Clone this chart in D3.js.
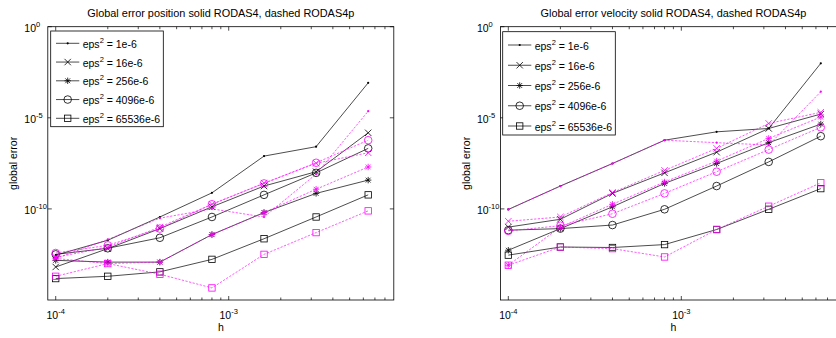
<!DOCTYPE html>
<html>
<head>
<meta charset="utf-8">
<script src="https://cdn.jsdelivr.net/npm/d3@7"></script>
<style>
  html, body { margin: 0; padding: 0; background: #fff; }
  svg text { font-family: "Liberation Sans", Arial, Helvetica, sans-serif; fill: #000; }
</style>
</head>
<body>
<svg id="chart" width="836" height="338"></svg>
<script>
// ---------------- data ----------------
const stepSizes = [1e-4, 2e-4, 4e-4, 8e-4, 1.6e-3, 3.2e-3, 6.4e-3];
const epsLabels = ["1e-6", "16e-6", "256e-6", "4096e-6", "65536e-6"];
const markerTypes = ["dot", "x", "star", "circle", "square"];
const xTickValues = [1e-4, 1e-3];
const xTickExponents = ["-4", "-3"];
const yTickValues = [1e0, 1e-5, 1e-10];
const yTickExponents = ["0", "-5", "-10"];
const titles = [
  "Global error position solid RODAS4, dashed RODAS4p",
  "Global error velocity solid RODAS4, dashed RODAS4p"
];

// position error, RODAS4 (solid black)
const posRodas4 = [
  [2.9e-13, 1.9e-12, 3.6e-11, 7.6e-10, 7.9e-8, 2.6e-7, 8.3e-4],
  [6.5e-14, 6.6e-13, 8.3e-12, 1.3e-10, 1.8e-9, 1.1e-8, 1.5e-6],
  [1.5e-13, 1.2e-13, 1.2e-13, 3.9e-12, 6.3e-11, 7.1e-10, 3.8e-9],
  [3.2e-13, 6.9e-13, 2.6e-12, 3.6e-11, 5.9e-10, 9.5e-9, 2.1e-7],
  [1.5e-14, 2.0e-14, 3.5e-14, 1.7e-13, 2.3e-12, 3.6e-11, 5.9e-10]
];
// position error, RODAS4p (dashed magenta)
const posRodas4p = [
  [1.9e-13, 2.1e-12, 3.1e-11, 1.0e-10, 3.6e-11, 8.1e-9, 2.3e-5],
  [2.2e-13, 7.9e-13, 1.0e-11, 1.8e-10, 2.6e-9, 3.2e-8, 1.2e-7],
  [1.9e-13, 1.0e-13, 1.2e-13, 3.9e-12, 6.3e-11, 1.2e-9, 2.0e-8],
  [3.8e-13, 1.0e-12, 8.3e-12, 1.8e-10, 2.5e-9, 3.4e-8, 5.9e-7],
  [2.0e-14, 1.0e-13, 2.6e-14, 4.6e-15, 3.2e-13, 5.0e-12, 7.8e-11]
];
// velocity error, RODAS4 (solid black)
const velRodas4 = [
  [9.3e-11, 1.8e-9, 3.1e-8, 5.9e-7, 1.7e-6, 2.6e-6, 9.8e-3],
  [1.0e-11, 2.7e-11, 7.1e-10, 9.5e-9, 1.3e-7, 2.6e-6, 1.6e-5],
  [5.4e-13, 8.3e-12, 1.3e-10, 2.5e-9, 3.1e-8, 4.3e-7, 4.5e-6],
  [6.8e-12, 8.3e-12, 1.3e-11, 9.5e-11, 1.8e-9, 3.8e-8, 9.8e-7],
  [2.9e-13, 8.1e-13, 7.6e-13, 1.1e-12, 7.4e-12, 9.5e-11, 1.3e-9]
];
// velocity error, RODAS4p (dashed magenta)
const velRodas4p = [
  [9.3e-11, 1.8e-9, 3.1e-8, 5.9e-7, 4.3e-7, 3.2e-7, 2.7e-4],
  [2.1e-11, 3.6e-11, 7.9e-10, 1.3e-8, 2.1e-7, 4.9e-6, 2.0e-5],
  [8.1e-14, 1.0e-11, 1.8e-10, 3.0e-9, 4.2e-8, 7.4e-7, 1.1e-5],
  [6.2e-12, 1.2e-11, 5.4e-11, 7.1e-10, 1.1e-8, 1.8e-7, 3.0e-6],
  [8.1e-14, 8.1e-13, 6.6e-13, 2.3e-13, 7.4e-12, 1.4e-10, 2.7e-9]
];

// ---------------- layout ----------------
const svg = d3.select("#chart");
const FONT = 10.5;
const panels = [
  { left: 47.8, solid: posRodas4, dashed: posRodas4p, title: titles[0],
    legend: { x: 50.7, y: 31, w: 112.6, h: 95.7, row0: 12.3, rowStep: 18.75 } },
  { left: 500.4, solid: velRodas4, dashed: velRodas4p, title: titles[1],
    legend: { x: 502.7, y: 31.7, w: 112.6, h: 103.3, row0: 13.3, rowStep: 20.25 } }
];
const plotW = 346, plotTop = 26.7, plotH = 273.3;
const BLACK = "#000", MAG = "#ff00ff";

function drawMarker(g, type, x, y, color) {
  const s = 3.2;
  if (type === "dot") {
    g.append("circle").attr("cx", x).attr("cy", y).attr("r", 1.1).attr("fill", color);
  } else if (type === "x") {
    g.append("path").attr("d", `M${x-s},${y-s}L${x+s},${y+s}M${x-s},${y+s}L${x+s},${y-s}`)
      .attr("stroke", color).attr("stroke-width", 0.8).attr("fill", "none");
  } else if (type === "star") {
    const d = s * 0.75;
    g.append("path").attr("d",
      `M${x-s},${y}L${x+s},${y}M${x},${y-s}L${x},${y+s}M${x-d},${y-d}L${x+d},${y+d}M${x-d},${y+d}L${x+d},${y-d}`)
      .attr("stroke", color).attr("stroke-width", 0.8).attr("fill", "none");
  } else if (type === "circle") {
    g.append("circle").attr("cx", x).attr("cy", y).attr("r", 3.8)
      .attr("stroke", color).attr("stroke-width", 0.8).attr("fill", "none");
  } else if (type === "square") {
    g.append("rect").attr("x", x - 3.2).attr("y", y - 3.2).attr("width", 6.4).attr("height", 6.4)
      .attr("stroke", color).attr("stroke-width", 0.8).attr("fill", "none");
  }
}

panels.forEach(p => {
  const x = d3.scaleLog().domain([9e-5, 9e-3]).range([p.left, p.left + plotW]);
  const y = d3.scaleLog().domain([1e-15, 1]).range([plotTop + plotH, plotTop]);
  const g = svg.append("g");

  // axes box
  g.append("rect").attr("x", p.left).attr("y", plotTop).attr("width", plotW).attr("height", plotH)
    .attr("fill", "#fff").attr("stroke", "#000").attr("stroke-width", 0.8);

  // x ticks (major + minor), inward on bottom and top
  const minor = [];
  [1e-4, 1e-3].forEach(dec => { for (let k = 2; k <= 9; k++) minor.push(k * dec); });
  const xMinor = minor.filter(v => v < 9e-3);
  const tickG = g.append("g").attr("stroke", "#000").attr("stroke-width", 0.7);
  xMinor.forEach(v => {
    const xx = x(v);
    tickG.append("line").attr("x1", xx).attr("x2", xx).attr("y1", plotTop + plotH).attr("y2", plotTop + plotH - 2.5);
    tickG.append("line").attr("x1", xx).attr("x2", xx).attr("y1", plotTop).attr("y2", plotTop + 2.5);
  });
  xTickValues.forEach(v => {
    const xx = x(v);
    tickG.append("line").attr("x1", xx).attr("x2", xx).attr("y1", plotTop + plotH).attr("y2", plotTop + plotH - 4);
    tickG.append("line").attr("x1", xx).attr("x2", xx).attr("y1", plotTop).attr("y2", plotTop + 4);
  });
  yTickValues.forEach(v => {
    const yy = y(v);
    tickG.append("line").attr("x1", p.left).attr("x2", p.left + 4).attr("y1", yy).attr("y2", yy);
    tickG.append("line").attr("x1", p.left + plotW).attr("x2", p.left + plotW - 4).attr("y1", yy).attr("y2", yy);
  });

  // x tick labels
  xTickValues.forEach((v, i) => {
    const t = g.append("text").attr("x", x(v)).attr("y", plotTop + plotH + 18.5)
      .attr("text-anchor", "middle").attr("font-size", FONT);
    t.append("tspan").text("10");
    t.append("tspan").attr("dy", -5).attr("font-size", 7.5).text(xTickExponents[i]);
  });
  // y tick labels
  yTickValues.forEach((v, i) => {
    const t = g.append("text").attr("x", p.left - 23.5).attr("y", y(v) + 5)
      .attr("text-anchor", "start").attr("font-size", FONT);
    t.append("tspan").text("10");
    t.append("tspan").attr("dy", -5).attr("font-size", 7.5).text(yTickExponents[i]);
  });

  // axis labels and title
  g.append("text").attr("x", p.left + plotW / 2).attr("y", 331)
    .attr("text-anchor", "middle").attr("font-size", FONT).text("h");
  g.append("text").attr("transform", `translate(${p.left - 30.5},${plotTop + plotH / 2}) rotate(-90)`)
    .attr("text-anchor", "middle").attr("font-size", FONT).text("global error");
  g.append("text").attr("x", p.left + plotW / 2).attr("y", 16.5)
    .attr("text-anchor", "middle").attr("font-size", 10.9).text(p.title);

  // data lines
  const line = d3.line().x((d, i) => x(stepSizes[i])).y(d => y(d));
  const dataG = g.append("g");
  p.solid.forEach((vals, si) => {
    dataG.append("path").attr("d", line(vals)).attr("fill", "none")
      .attr("stroke", BLACK).attr("stroke-width", 0.7);
    vals.forEach((v, i) => drawMarker(dataG, markerTypes[si], x(stepSizes[i]), y(v), BLACK));
  });
  p.dashed.forEach((vals, si) => {
    dataG.append("path").attr("d", line(vals)).attr("fill", "none")
      .attr("stroke", MAG).attr("stroke-width", 0.65).attr("stroke-dasharray", "2.2,1.5");
    vals.forEach((v, i) => drawMarker(dataG, markerTypes[si], x(stepSizes[i]), y(v), MAG));
  });

  // legend
  const L = p.legend;
  const lg = g.append("g");
  lg.append("rect").attr("x", L.x).attr("y", L.y).attr("width", L.w).attr("height", L.h)
    .attr("fill", "#fff").attr("stroke", "#000").attr("stroke-width", 0.8);
  epsLabels.forEach((lab, i) => {
    const ry = L.y + L.row0 + i * L.rowStep;
    lg.append("line").attr("x1", L.x + 5.3).attr("x2", L.x + 28.6).attr("y1", ry).attr("y2", ry)
      .attr("stroke", BLACK).attr("stroke-width", 0.7);
    drawMarker(lg, markerTypes[i], L.x + 17, ry, BLACK);
    const t = lg.append("text").attr("x", L.x + 32).attr("y", ry + 4.5).attr("font-size", FONT);
    t.append("tspan").text("eps");
    t.append("tspan").attr("dy", -5).attr("font-size", 7.5).text("2");
    t.append("tspan").attr("dy", 5).text(" = " + lab);
  });
});
</script>
</body>
</html>
